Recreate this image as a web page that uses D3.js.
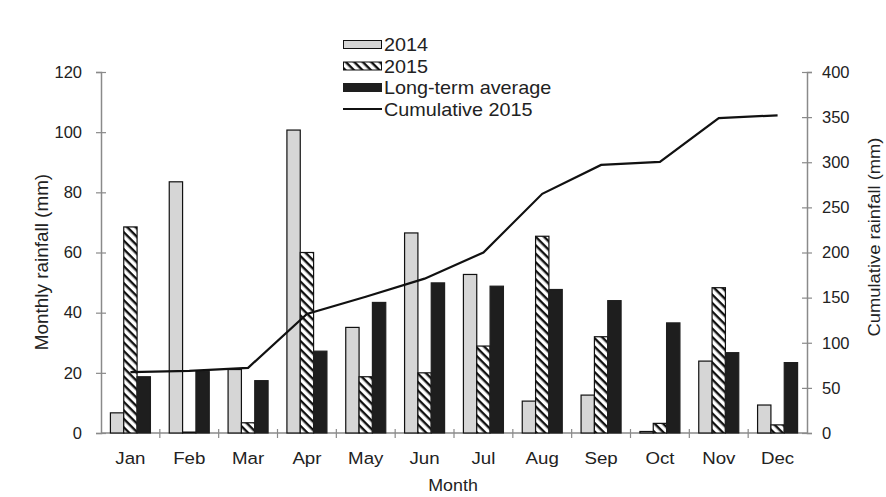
<!DOCTYPE html>
<html>
<head>
<meta charset="utf-8">
<script src="https://cdn.jsdelivr.net/npm/d3@7"></script>
<style>
  body { margin: 0; background: #fff; }
  text { font-family: "Liberation Sans", Arial, sans-serif; fill: #222; }
</style>
</head>
<body>
<svg width="886" height="497"></svg>
<script>
var months = ["Jan", "Feb", "Mar", "Apr", "May", "Jun", "Jul", "Aug", "Sep", "Oct", "Nov", "Dec"];
var rain2014 = [6.7, 83.5, 21.1, 100.7, 35.1, 66.5, 52.7, 10.6, 12.6, 0.5, 23.9, 9.3];
var rain2015 = [68.5, 0.3, 3.4, 60, 18.7, 20, 28.9, 65.4, 32, 3.2, 48.3, 2.7];
var longTerm = [18.7, 20.4, 17.4, 27.2, 43.4, 49.9, 48.8, 47.7, 44, 36.6, 26.7, 23.4];
var cumulative2015 = [67.5, 68.8, 72.2, 132, 151, 171, 200, 265, 297, 300.5, 349, 352];
var leftTicks = [0, 20, 40, 60, 80, 100, 120];
var rightTicks = [0, 50, 100, 150, 200, 250, 300, 350, 400];

var svg = d3.select("svg");
var margin = {left: 101, right: 79, top: 72, bottom: 64};
var width = 886 - margin.left - margin.right,
    height = 497 - margin.top - margin.bottom;

var defs = svg.append("defs");
var pat = defs.append("pattern")
    .attr("id", "hatch")
    .attr("patternUnits", "userSpaceOnUse")
    .attr("width", 6).attr("height", 6)
    .attr("patternTransform", "rotate(45)");
pat.append("rect").attr("width", 6).attr("height", 6).attr("fill", "#fff");
pat.append("rect").attr("width", 6).attr("height", 2.4).attr("fill", "#111");

var g = svg.append("g").attr("transform", "translate(" + margin.left + "," + margin.top + ")");

var x = d3.scaleBand().domain(months).range([0, width]).paddingInner(0.32).paddingOuter(0.16);
var xb = d3.scaleBand().domain(["a", "b", "c"]).range([0, x.bandwidth()]);
var y = d3.scaleLinear().domain([0, 120]).range([height, 0]);
var y2 = d3.scaleLinear().domain([0, 400]).range([height, 0]);

// axes
var axisColor = "#8a8a8a";
function styleAxis(sel) {
    sel.select(".domain").attr("stroke", axisColor).attr("stroke-width", 1.5);
    sel.selectAll(".tick line").attr("stroke", axisColor).attr("stroke-width", 1.2);
    sel.selectAll(".tick text").style("font-size", "16.5px").attr("fill", "#333");
}

var yl = g.append("g")
    .call(d3.axisLeft(y).tickValues(leftTicks).tickSizeOuter(0).tickSize(5).tickPadding(14));
yl.selectAll(".tick line").attr("x2", 5).attr("x1", -5);
styleAxis(yl);

var yr = g.append("g").attr("transform", "translate(" + width + ",0)")
    .call(d3.axisRight(y2).tickValues(rightTicks).tickSizeOuter(0).tickSize(5).tickPadding(10));
yr.selectAll(".tick line").attr("x1", -5).attr("x2", 5);
styleAxis(yr);

// x axis with ticks at band boundaries
var xa = g.append("g").attr("transform", "translate(0," + height + ")");
xa.append("line").attr("x1", 0).attr("x2", width).attr("stroke", axisColor).attr("stroke-width", 1.5);
var step = x.step();
xa.selectAll(".bt").data(d3.range(1, months.length)).enter().append("line")
    .attr("x1", function(d) { return x(months[d]) - (step - x.bandwidth()) / 2; })
    .attr("x2", function(d) { return x(months[d]) - (step - x.bandwidth()) / 2; })
    .attr("y1", -4).attr("y2", 5)
    .attr("stroke", axisColor).attr("stroke-width", 1.2);
xa.selectAll(".lbl").data(months).enter().append("text")
    .attr("transform", function(d) {
        return "translate(" + (x(d) + x.bandwidth() / 2) + ",31) scale(1.1,1)";
    })
    .attr("text-anchor", "middle")
    .style("font-size", "17px")
    .attr("fill", "#333")
    .text(function(d) { return d; });

// bars
var series = [
    {key: "a", values: rain2014, fill: "#d6d6d6", stroke: "#111"},
    {key: "b", values: rain2015, fill: "url(#hatch)", stroke: "#111"},
    {key: "c", values: longTerm, fill: "#1e1e1e", stroke: "#1e1e1e"}
];
series.forEach(function(s) {
    g.append("g").selectAll("rect")
        .data(s.values)
        .enter().append("rect")
        .attr("x", function(d, i) { return x(months[i]) + xb(s.key); })
        .attr("y", function(d) { return y(d); })
        .attr("width", xb.bandwidth())
        .attr("height", function(d) { return height - y(d); })
        .attr("fill", s.fill)
        .attr("stroke", s.stroke)
        .attr("stroke-width", 1.2);
});

// cumulative line
var line = d3.line()
    .x(function(d, i) { return x(months[i]) + x.bandwidth() / 2; })
    .y(function(d) { return y2(d); });
g.append("path")
    .datum(cumulative2015)
    .attr("d", line)
    .attr("fill", "none")
    .attr("stroke", "#111")
    .attr("stroke-width", 2.2);

// axis titles
svg.append("text")
    .attr("transform", "translate(48,262) rotate(-90) scale(1.08,1)")
    .attr("text-anchor", "middle")
    .style("font-size", "17.5px")
    .attr("fill", "#333")
    .text("Monthly rainfall (mm)");
svg.append("text")
    .attr("transform", "translate(880,237) rotate(-90) scale(1.08,1)")
    .attr("text-anchor", "middle")
    .style("font-size", "17px")
    .attr("fill", "#333")
    .text("Cumulative rainfall (mm)");
svg.append("text")
    .attr("transform", "translate(453,491) scale(1.05,1)")
    .attr("text-anchor", "middle")
    .style("font-size", "17px")
    .attr("fill", "#333")
    .text("Month");

// legend
var legendItems = [
    {label: "2014", type: "rect", fill: "#d6d6d6", stroke: "#111"},
    {label: "2015", type: "rect", fill: "url(#hatch)", stroke: "#111"},
    {label: "Long-term average", type: "rect", fill: "#1e1e1e", stroke: "#1e1e1e"},
    {label: "Cumulative 2015", type: "line"}
];
var lg = svg.append("g").attr("transform", "translate(343,44.5)");
legendItems.forEach(function(d, i) {
    var row = lg.append("g").attr("transform", "translate(0," + (i * 21.5) + ")");
    if (d.type === "rect") {
        row.append("rect").attr("x", 0.5).attr("y", -4).attr("width", 38).attr("height", 8)
            .attr("fill", d.fill).attr("stroke", d.stroke).attr("stroke-width", 1);
    } else {
        row.append("line").attr("x1", 0).attr("x2", 39).attr("y1", 0).attr("y2", 0)
            .attr("stroke", "#111").attr("stroke-width", 2);
    }
    row.append("text").attr("transform", "translate(41,6.5) scale(1.1,1)")
        .style("font-size", "18px")
        .attr("fill", "#333")
        .text(d.label);
});
</script>
</body>
</html>
